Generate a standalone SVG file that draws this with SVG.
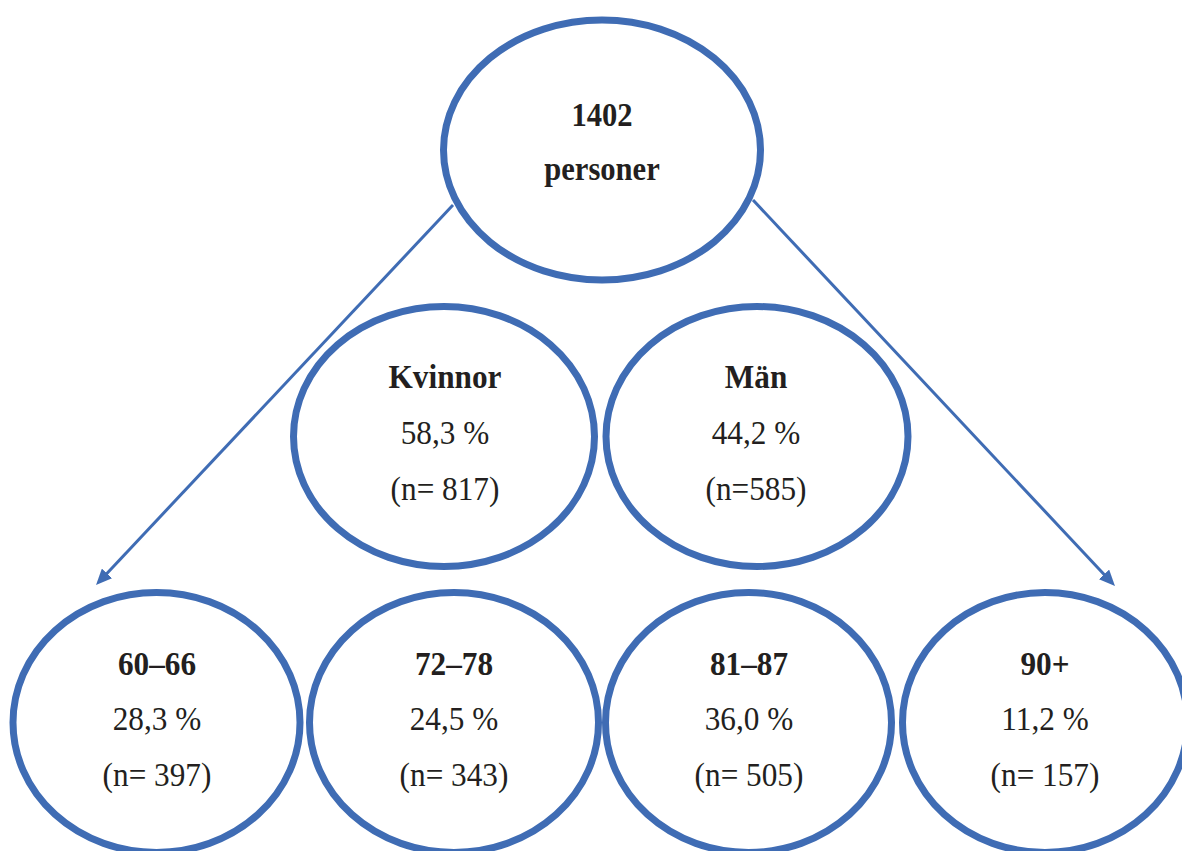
<svg xmlns="http://www.w3.org/2000/svg" width="1182" height="851" viewBox="0 0 1182 851">
<style>
.node{fill:#ffffff;stroke:#3F6CB4;stroke-width:7}
.conn{stroke:#3F6CB4;stroke-width:3;fill:none}
text{font-family:"Liberation Serif","Times New Roman",serif;font-size:34px;fill:#231F20;text-anchor:middle}
.b{font-weight:bold}
</style>
<defs>
<marker id="arr" viewBox="0 0 16 14" refX="8" refY="7" markerWidth="16" markerHeight="14" markerUnits="userSpaceOnUse" orient="auto">
<path d="M0,0 L16,7 L0,14 z" fill="#3F6CB4"/>
</marker>
</defs>
<g id="connectors">
<line class="conn" x1="453" y1="205" x2="101.5" y2="579.2" marker-end="url(#arr)"/>
<line class="conn" x1="753" y1="200" x2="1109.5" y2="580.2" marker-end="url(#arr)"/>
</g>
<g id="total">
<ellipse class="node" cx="602" cy="150" rx="158.5" ry="130"/>
<g transform="translate(602 0) scale(0.9 1)">
<text class="b" x="0" y="126">1402</text>
<text class="b" x="0" y="180">personer</text>
</g>
</g>
<g id="kvinnor">
<ellipse class="node" cx="444" cy="436.5" rx="150.5" ry="130"/>
<g transform="translate(445 0) scale(0.92 1)">
<text class="b" x="0" y="388">Kvinnor</text>
<text x="0" y="444">58,3 %</text>
<text x="0" y="500">(n= 817)</text>
</g>
</g>
<g id="man">
<ellipse class="node" cx="757" cy="436.5" rx="151" ry="130"/>
<g transform="translate(756 0) scale(0.92 1)">
<text class="b" x="0" y="388">Män</text>
<text x="0" y="444">44,2 %</text>
<text x="0" y="500">(n=585)</text>
</g>
</g>
<g id="age60">
<ellipse class="node" cx="156.5" cy="722.5" rx="143.5" ry="130"/>
<g transform="translate(157 0) scale(0.92 1)">
<text class="b" x="0" y="675">60–66</text>
<text x="0" y="730">28,3 %</text>
<text x="0" y="786">(n= 397)</text>
</g>
</g>
<g id="age72">
<ellipse class="node" cx="454" cy="722.5" rx="144.5" ry="130"/>
<g transform="translate(454 0) scale(0.92 1)">
<text class="b" x="0" y="675">72–78</text>
<text x="0" y="730">24,5 %</text>
<text x="0" y="786">(n= 343)</text>
</g>
</g>
<g id="age81">
<ellipse class="node" cx="748.5" cy="722.5" rx="143" ry="130"/>
<g transform="translate(749 0) scale(0.92 1)">
<text class="b" x="0" y="675">81–87</text>
<text x="0" y="730">36,0 %</text>
<text x="0" y="786">(n= 505)</text>
</g>
</g>
<g id="age90">
<ellipse class="node" cx="1045" cy="722.5" rx="142.5" ry="130"/>
<g transform="translate(1045 0) scale(0.92 1)">
<text class="b" x="0" y="675">90+</text>
<text x="0" y="730">11,2 %</text>
<text x="0" y="786">(n= 157)</text>
</g>
</g>
</svg>
